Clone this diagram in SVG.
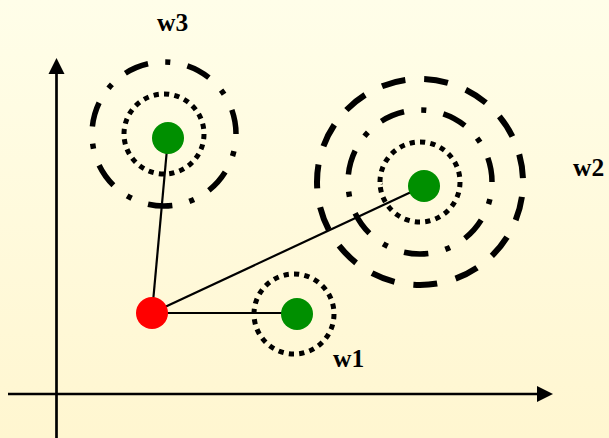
<svg xmlns="http://www.w3.org/2000/svg" width="609" height="438" viewBox="0 0 609 438">
<defs>
<linearGradient id="bg" x1="0" y1="0" x2="0" y2="1">
<stop offset="0" stop-color="#FFFEE9"/>
<stop offset="1" stop-color="#FFF6D0"/>
</linearGradient>
<style>
.lbl{font-family:"Liberation Serif",serif;font-weight:bold;font-size:25.5px;fill:#000}
.axis{stroke:#000;stroke-width:2.7;fill:none}
.link{stroke:#000;stroke-width:2.2;fill:none}
.dot{fill:none;stroke:#000;stroke-width:5;stroke-dasharray:1 1}
.dd{fill:none;stroke:#000;stroke-width:5.5;stroke-dasharray:24 17 5 17}
.dash{fill:none;stroke:#000;stroke-width:6;stroke-dasharray:24 19}
.g{fill:#008F00}
.r{fill:#FF0000}
</style>
</defs>
<rect width="609" height="438" fill="url(#bg)"/>
<g id="axes">
<line class="axis" x1="56.5" y1="438" x2="56.5" y2="72"/>
<polygon points="56.5,58 48.5,74 64.5,74" fill="#000"/>
<line class="axis" x1="8" y1="394" x2="538" y2="394"/>
<polygon points="553,394 537,386 537,402" fill="#000"/>
</g>
<g id="w3">
<circle class="dd" cx="164" cy="134" r="72" pathLength="441" stroke-dashoffset="24"/>
<circle class="dot" cx="164" cy="134" r="40" pathLength="48"/>
</g>
<g id="w2">
<circle class="dash" cx="420" cy="182" r="103" pathLength="645" stroke-dashoffset="28"/>
<circle class="dd" cx="420" cy="182" r="72" pathLength="441" stroke-dashoffset="24"/>
<circle class="dot" cx="420" cy="182" r="40" pathLength="48"/>
</g>
<g id="w1">
<circle class="dot" cx="294" cy="314" r="40" pathLength="48"/>
</g>
<g id="connectors">
<line class="link" x1="152" y1="313" x2="168" y2="138"/>
<line class="link" x1="152" y1="313" x2="424" y2="186"/>
<line class="link" x1="152" y1="313" x2="296" y2="313"/>
</g>
<g id="node-red"><circle class="r" cx="152" cy="313" r="16"/></g>
<g id="node-w3"><circle class="g" cx="168" cy="138" r="16"/></g>
<g id="node-w2"><circle class="g" cx="424" cy="186" r="16"/></g>
<g id="node-w1"><circle class="g" cx="297" cy="314" r="16"/></g>
<g id="labels">
<text class="lbl" x="157" y="31">w3</text>
<text class="lbl" x="573" y="176">w2</text>
<text class="lbl" x="333" y="367">w1</text>
</g>
</svg>
